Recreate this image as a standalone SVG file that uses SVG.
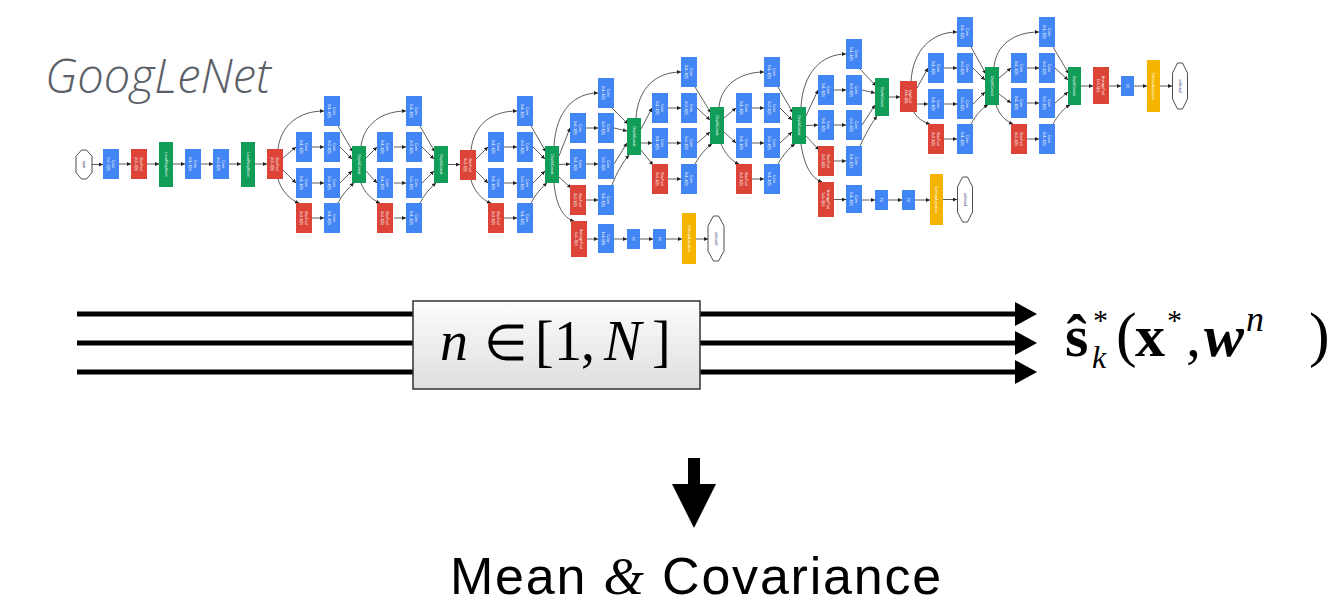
<svg xmlns="http://www.w3.org/2000/svg" width="1332" height="606" viewBox="0 0 1332 606">
  <defs>
    <style>
      .b{fill:#4285f4}
      .r{fill:#db4437}
      .g{fill:#0f9d58}
      .y{fill:#f4b400}
      .e{fill:#fff;stroke:#222;stroke-width:0.8;stroke-linejoin:round}
      .t{font-family:"Liberation Sans",Arial,sans-serif;font-size:3.4px;fill:#fff;text-anchor:middle}
      .te{font-family:"Liberation Sans",Arial,sans-serif;font-size:3.4px;fill:#1c2a6b;text-anchor:middle}
      .c{fill:none;stroke:#333;stroke-width:0.8;marker-end:url(#ah)}
      .thick{fill:none;stroke:#000;stroke-width:5}
      .math{font-family:"Liberation Serif","Times New Roman",serif;fill:#000}
    </style>
    <marker id="ah" viewBox="0 0 6 6" refX="6" refY="3" markerWidth="4" markerHeight="4" orient="auto" markerUnits="userSpaceOnUse">
      <path d="M0,0 L6,3 L0,6 z" fill="#222"/>
    </marker>
    <marker id="bigHead" viewBox="0 0 22 24" refX="0" refY="12" markerWidth="22" markerHeight="24" orient="auto" markerUnits="userSpaceOnUse">
      <path d="M0,0 L22,12 L0,24 z" fill="#000"/>
    </marker>
    <linearGradient id="boxFill" x1="0" y1="0" x2="0" y2="1">
      <stop offset="0" stop-color="#fdfdfd"/>
      <stop offset="1" stop-color="#dedede"/>
    </linearGradient>
  </defs>

  <rect width="1332" height="606" fill="#fff"/>

  <!-- title -->
  <text id="title" x="45" y="93" font-family="'Open Sans','Liberation Sans',sans-serif" font-style="italic" font-weight="300" font-size="47" fill="#5b6067">GoogLeNet</text>

  <!-- network edges -->
  <g id="net-links">
    <!-- stem -->
    <path class="c" d="M92,164.5 L103,164.5"/>
    <path class="c" d="M119,164 L131,164"/>
    <path class="c" d="M147,164 L159,164"/>
    <path class="c" d="M173,164 L185,164"/>
    <path class="c" d="M201,164 L213,164"/>
    <path class="c" d="M229,164 L241,164"/>
    <path class="c" d="M255,164 L267,164"/>
    <!-- inception 3a -->
    <path class="c" d="M278,149 C281,124 300,111 324,111"/>
    <path class="c" d="M283,158 L296,147"/>
    <path class="c" d="M283,170 L296,183"/>
    <path class="c" d="M278,179 C281,190 290,200 299,203"/>
    <path class="c" d="M312,147 L324,147"/>
    <path class="c" d="M312,183 L324,183"/>
    <path class="c" d="M312,218 L324,218"/>
    <path class="c" d="M338,126 L353,152"/>
    <path class="c" d="M340,147 L352,159"/>
    <path class="c" d="M340,183 L352,171"/>
    <path class="c" d="M338,203 C342,195 348,188 354,183"/>
    <!-- inception 3b -->
    <path class="c" d="M361,146 C364,124 382,111 406,111"/>
    <path class="c" d="M366,158 L377,147"/>
    <path class="c" d="M366,171 L377,183"/>
    <path class="c" d="M361,183 C364,192 372,200 380,203"/>
    <path class="c" d="M394,147 L406,147"/>
    <path class="c" d="M394,183 L406,183"/>
    <path class="c" d="M394,218 L406,218"/>
    <path class="c" d="M420,126 L435,152"/>
    <path class="c" d="M422,147 L434,159"/>
    <path class="c" d="M422,183 L434,171"/>
    <path class="c" d="M420,203 C424,195 430,188 436,183"/>
    <path class="c" d="M448,164.5 L460,164.5"/>
    <!-- inception 4a -->
    <path class="c" d="M471,150 C474,124 492,111 517,111"/>
    <path class="c" d="M476,159 L488,147"/>
    <path class="c" d="M476,171 L488,183"/>
    <path class="c" d="M471,180 C474,191 482,200 491,203"/>
    <path class="c" d="M504,147 L517,147"/>
    <path class="c" d="M504,183 L517,183"/>
    <path class="c" d="M504,218 L517,218"/>
    <path class="c" d="M531,126 L546,152"/>
    <path class="c" d="M533,147 L545,159"/>
    <path class="c" d="M533,183 L545,171"/>
    <path class="c" d="M531,203 C535,195 541,188 547,183"/>
    <!-- inception 4b -->
    <path class="c" d="M554,146 C556,110 575,93 598,93"/>
    <path class="c" d="M559,156 L570,128"/>
    <path class="c" d="M559,164.5 L570,164"/>
    <path class="c" d="M559,177 L571,188"/>
    <path class="c" d="M554,183 C556,205 563,218 574,221"/>
    <path class="c" d="M586,128 L598,128"/>
    <path class="c" d="M586,164 L598,164"/>
    <path class="c" d="M586,200 L598,200"/>
    <path class="c" d="M612,108 L628,124"/>
    <path class="c" d="M614,128 L627,131"/>
    <path class="c" d="M614,164 L627,143"/>
    <path class="c" d="M612,185 C617,172 623,162 629,155"/>
    <!-- auxiliary head 0 -->
    <path class="c" d="M587,239 L598,239"/>
    <path class="c" d="M614,239 L627,239"/>
    <path class="c" d="M640,239 L653,239"/>
    <path class="c" d="M666,239 L682,239"/>
    <path class="c" d="M696,239 L708,239"/>
    <!-- inception 4c -->
    <path class="c" d="M636,118 C638,88 656,72 681,72"/>
    <path class="c" d="M641,129 L652,108"/>
    <path class="c" d="M641,143 L652,143"/>
    <path class="c" d="M641,150 L653,165"/>
    <path class="c" d="M668,108 L681,108"/>
    <path class="c" d="M668,143 L681,143"/>
    <path class="c" d="M668,179 L681,179"/>
    <path class="c" d="M695,87 L711,113"/>
    <path class="c" d="M697,108 L710,120"/>
    <path class="c" d="M697,143 L710,132"/>
    <path class="c" d="M695,164 C700,155 706,148 712,144"/>
    <!-- inception 4d -->
    <path class="c" d="M719,107 C721,85 740,72 764,72"/>
    <path class="c" d="M724,118 L736,108"/>
    <path class="c" d="M724,132 L736,143"/>
    <path class="c" d="M721,144 C725,153 731,161 739,164"/>
    <path class="c" d="M752,108 L764,108"/>
    <path class="c" d="M752,143 L764,143"/>
    <path class="c" d="M752,179 L764,179"/>
    <path class="c" d="M778,87 L793,113"/>
    <path class="c" d="M780,108 L792,120"/>
    <path class="c" d="M780,143 L792,132"/>
    <path class="c" d="M778,164 C783,155 789,148 795,144"/>
    <!-- auxiliary head 1 -->
    <path class="c" d="M801,144 C804,165 811,178 822,182"/>
    <path class="c" d="M834,199.5 L846,199.5"/>
    <path class="c" d="M862,200 L875,200"/>
    <path class="c" d="M888,200 L902,200"/>
    <path class="c" d="M915,200 L930,200"/>
    <path class="c" d="M943,199.5 L957,199.5"/>
    <!-- inception 4e -->
    <path class="c" d="M801,107 C803,72 822,54 846,54"/>
    <path class="c" d="M806,116 L818,90"/>
    <path class="c" d="M806,125.5 L818,125"/>
    <path class="c" d="M806,136 L819,150"/>
    <path class="c" d="M834,90 L846,90"/>
    <path class="c" d="M834,125 L846,125"/>
    <path class="c" d="M834,161 L846,161"/>
    <path class="c" d="M860,69 L876,86"/>
    <path class="c" d="M862,90 L875,93"/>
    <path class="c" d="M862,125 L875,105"/>
    <path class="c" d="M860,146 C865,135 871,124 877,116"/>
    <path class="c" d="M889,97 L900,97"/>
    <!-- inception 5a -->
    <path class="c" d="M911,81 C913,50 932,32 957,32"/>
    <path class="c" d="M917,88 L928,68"/>
    <path class="c" d="M917,104 L928,104"/>
    <path class="c" d="M914,112 C917,118 923,122 930,124"/>
    <path class="c" d="M944,68 L957,68"/>
    <path class="c" d="M944,104 L957,104"/>
    <path class="c" d="M944,139 L957,139"/>
    <path class="c" d="M971,47 L986,74"/>
    <path class="c" d="M973,68 L985,80"/>
    <path class="c" d="M973,104 L985,92"/>
    <path class="c" d="M971,124 C976,115 982,108 988,105"/>
    <!-- inception 5b -->
    <path class="c" d="M994,67 C996,45 1014,32 1039,32"/>
    <path class="c" d="M999,78 L1011,68"/>
    <path class="c" d="M999,94 L1011,103"/>
    <path class="c" d="M996,105 C999,114 1005,121 1013,124"/>
    <path class="c" d="M1027,68 L1039,68"/>
    <path class="c" d="M1027,103 L1039,103"/>
    <path class="c" d="M1027,139 L1039,139"/>
    <path class="c" d="M1053,47 L1069,74"/>
    <path class="c" d="M1055,68 L1068,80"/>
    <path class="c" d="M1055,103 L1068,92"/>
    <path class="c" d="M1053,124 C1058,115 1064,108 1070,105"/>
    <!-- classifier -->
    <path class="c" d="M1081,86 L1093,86"/>
    <path class="c" d="M1109,86 L1121,86"/>
    <path class="c" d="M1134,86 L1147,86"/>
    <path class="c" d="M1160,86 L1172,86"/>
  </g>

  <!-- stem -->
  <g id="input"><path class="e" d="M81.5,150 L86.5,150 L92,156.4 L92,172.6 L86.5,179 L81.5,179 L76,172.6 L76,156.4 Z"/><text class="te" transform="translate(84,164.5) rotate(90)" y="1.2">input</text></g>
  <g id="conv1"><rect class="b" x="103" y="149" width="16" height="30"/><text class="t" transform="translate(111,164) rotate(90)"><tspan x="0" y="-0.6">Conv</tspan><tspan x="0" y="3.6">7x7+2(S)</tspan></text></g>
  <g id="pool1"><rect class="r" x="131" y="149" width="16" height="30"/><text class="t" transform="translate(139,164) rotate(90)"><tspan x="0" y="-0.6">MaxPool</tspan><tspan x="0" y="3.6">3x3+2(S)</tspan></text></g>
  <g id="norm1"><rect class="g" x="159" y="142" width="14" height="45"/><text class="t" transform="translate(166,164.5) rotate(90)" y="1.2">LocalRespNorm</text></g>
  <g id="conv2"><rect class="b" x="185" y="149" width="16" height="30"/><text class="t" transform="translate(193,164) rotate(90)"><tspan x="0" y="-0.6">Conv</tspan><tspan x="0" y="3.6">1x1+1(V)</tspan></text></g>
  <g id="conv3"><rect class="b" x="213" y="149" width="16" height="30"/><text class="t" transform="translate(221,164) rotate(90)"><tspan x="0" y="-0.6">Conv</tspan><tspan x="0" y="3.6">3x3+1(S)</tspan></text></g>
  <g id="norm2"><rect class="g" x="241" y="142" width="14" height="45"/><text class="t" transform="translate(248,164.5) rotate(90)" y="1.2">LocalRespNorm</text></g>
  <g id="pool2"><rect class="r" x="267" y="149" width="16" height="30"/><text class="t" transform="translate(275,164) rotate(90)"><tspan x="0" y="-0.6">MaxPool</tspan><tspan x="0" y="3.6">3x3+2(S)</tspan></text></g>

  <!-- inception 3a -->
  <g id="i3a-1"><rect class="b" x="324" y="96" width="16" height="30"/><text class="t" transform="translate(332,111) rotate(90)"><tspan x="0" y="-0.6">Conv</tspan><tspan x="0" y="3.6">1x1+1(S)</tspan></text></g>
  <g id="i3a-2a"><rect class="b" x="296" y="132" width="16" height="30"/><text class="t" transform="translate(304,147) rotate(90)"><tspan x="0" y="-0.6">Conv</tspan><tspan x="0" y="3.6">1x1+1(S)</tspan></text></g>
  <g id="i3a-2b"><rect class="b" x="324" y="132" width="16" height="30"/><text class="t" transform="translate(332,147) rotate(90)"><tspan x="0" y="-0.6">Conv</tspan><tspan x="0" y="3.6">3x3+1(S)</tspan></text></g>
  <g id="i3a-3a"><rect class="b" x="296" y="168" width="16" height="30"/><text class="t" transform="translate(304,183) rotate(90)"><tspan x="0" y="-0.6">Conv</tspan><tspan x="0" y="3.6">1x1+1(S)</tspan></text></g>
  <g id="i3a-3b"><rect class="b" x="324" y="168" width="16" height="30"/><text class="t" transform="translate(332,183) rotate(90)"><tspan x="0" y="-0.6">Conv</tspan><tspan x="0" y="3.6">5x5+1(S)</tspan></text></g>
  <g id="i3a-4a"><rect class="r" x="296" y="203" width="16" height="30"/><text class="t" transform="translate(304,218) rotate(90)"><tspan x="0" y="-0.6">MaxPool</tspan><tspan x="0" y="3.6">3x3+1(S)</tspan></text></g>
  <g id="i3a-4b"><rect class="b" x="324" y="203" width="16" height="30"/><text class="t" transform="translate(332,218) rotate(90)"><tspan x="0" y="-0.6">Conv</tspan><tspan x="0" y="3.6">1x1+1(S)</tspan></text></g>
  <g id="i3a-cat"><rect class="g" x="352" y="146" width="14" height="37"/><text class="t" transform="translate(359,164.5) rotate(90)" y="1.2">DepthConcat</text></g>

  <!-- inception 3b -->
  <g id="i3b-1"><rect class="b" x="406" y="96" width="16" height="30"/><text class="t" transform="translate(414,111) rotate(90)"><tspan x="0" y="-0.6">Conv</tspan><tspan x="0" y="3.6">1x1+1(S)</tspan></text></g>
  <g id="i3b-2a"><rect class="b" x="377" y="132" width="16" height="30"/><text class="t" transform="translate(385,147) rotate(90)"><tspan x="0" y="-0.6">Conv</tspan><tspan x="0" y="3.6">1x1+1(S)</tspan></text></g>
  <g id="i3b-2b"><rect class="b" x="406" y="132" width="16" height="30"/><text class="t" transform="translate(414,147) rotate(90)"><tspan x="0" y="-0.6">Conv</tspan><tspan x="0" y="3.6">3x3+1(S)</tspan></text></g>
  <g id="i3b-3a"><rect class="b" x="377" y="168" width="16" height="30"/><text class="t" transform="translate(385,183) rotate(90)"><tspan x="0" y="-0.6">Conv</tspan><tspan x="0" y="3.6">1x1+1(S)</tspan></text></g>
  <g id="i3b-3b"><rect class="b" x="406" y="168" width="16" height="30"/><text class="t" transform="translate(414,183) rotate(90)"><tspan x="0" y="-0.6">Conv</tspan><tspan x="0" y="3.6">5x5+1(S)</tspan></text></g>
  <g id="i3b-4a"><rect class="r" x="377" y="203" width="16" height="30"/><text class="t" transform="translate(385,218) rotate(90)"><tspan x="0" y="-0.6">MaxPool</tspan><tspan x="0" y="3.6">3x3+1(S)</tspan></text></g>
  <g id="i3b-4b"><rect class="b" x="406" y="203" width="16" height="30"/><text class="t" transform="translate(414,218) rotate(90)"><tspan x="0" y="-0.6">Conv</tspan><tspan x="0" y="3.6">1x1+1(S)</tspan></text></g>
  <g id="i3b-cat"><rect class="g" x="434" y="146" width="14" height="37"/><text class="t" transform="translate(441,164.5) rotate(90)" y="1.2">DepthConcat</text></g>

  <g id="pool3"><rect class="r" x="460" y="150" width="16" height="30"/><text class="t" transform="translate(468,165) rotate(90)"><tspan x="0" y="-0.6">MaxPool</tspan><tspan x="0" y="3.6">3x3+2(S)</tspan></text></g>

  <!-- inception 4a -->
  <g id="i4a-1"><rect class="b" x="517" y="96" width="16" height="30"/><text class="t" transform="translate(525,111) rotate(90)"><tspan x="0" y="-0.6">Conv</tspan><tspan x="0" y="3.6">1x1+1(S)</tspan></text></g>
  <g id="i4a-2a"><rect class="b" x="488" y="132" width="16" height="30"/><text class="t" transform="translate(496,147) rotate(90)"><tspan x="0" y="-0.6">Conv</tspan><tspan x="0" y="3.6">1x1+1(S)</tspan></text></g>
  <g id="i4a-2b"><rect class="b" x="517" y="132" width="16" height="30"/><text class="t" transform="translate(525,147) rotate(90)"><tspan x="0" y="-0.6">Conv</tspan><tspan x="0" y="3.6">3x3+1(S)</tspan></text></g>
  <g id="i4a-3a"><rect class="b" x="488" y="168" width="16" height="30"/><text class="t" transform="translate(496,183) rotate(90)"><tspan x="0" y="-0.6">Conv</tspan><tspan x="0" y="3.6">1x1+1(S)</tspan></text></g>
  <g id="i4a-3b"><rect class="b" x="517" y="168" width="16" height="30"/><text class="t" transform="translate(525,183) rotate(90)"><tspan x="0" y="-0.6">Conv</tspan><tspan x="0" y="3.6">5x5+1(S)</tspan></text></g>
  <g id="i4a-4a"><rect class="r" x="488" y="203" width="16" height="30"/><text class="t" transform="translate(496,218) rotate(90)"><tspan x="0" y="-0.6">MaxPool</tspan><tspan x="0" y="3.6">3x3+1(S)</tspan></text></g>
  <g id="i4a-4b"><rect class="b" x="517" y="203" width="16" height="30"/><text class="t" transform="translate(525,218) rotate(90)"><tspan x="0" y="-0.6">Conv</tspan><tspan x="0" y="3.6">1x1+1(S)</tspan></text></g>
  <g id="i4a-cat"><rect class="g" x="545" y="146" width="14" height="37"/><text class="t" transform="translate(552,164.5) rotate(90)" y="1.2">DepthConcat</text></g>

  <!-- inception 4b -->
  <g id="i4b-1"><rect class="b" x="598" y="78" width="16" height="30"/><text class="t" transform="translate(606,93) rotate(90)"><tspan x="0" y="-0.6">Conv</tspan><tspan x="0" y="3.6">1x1+1(S)</tspan></text></g>
  <g id="i4b-2a"><rect class="b" x="570" y="113" width="16" height="30"/><text class="t" transform="translate(578,128) rotate(90)"><tspan x="0" y="-0.6">Conv</tspan><tspan x="0" y="3.6">1x1+1(S)</tspan></text></g>
  <g id="i4b-2b"><rect class="b" x="598" y="113" width="16" height="30"/><text class="t" transform="translate(606,128) rotate(90)"><tspan x="0" y="-0.6">Conv</tspan><tspan x="0" y="3.6">3x3+1(S)</tspan></text></g>
  <g id="i4b-3a"><rect class="b" x="570" y="149" width="16" height="30"/><text class="t" transform="translate(578,164) rotate(90)"><tspan x="0" y="-0.6">Conv</tspan><tspan x="0" y="3.6">1x1+1(S)</tspan></text></g>
  <g id="i4b-3b"><rect class="b" x="598" y="149" width="16" height="30"/><text class="t" transform="translate(606,164) rotate(90)"><tspan x="0" y="-0.6">Conv</tspan><tspan x="0" y="3.6">5x5+1(S)</tspan></text></g>
  <g id="i4b-4a"><rect class="r" x="570" y="185" width="16" height="30"/><text class="t" transform="translate(578,200) rotate(90)"><tspan x="0" y="-0.6">MaxPool</tspan><tspan x="0" y="3.6">3x3+1(S)</tspan></text></g>
  <g id="i4b-4b"><rect class="b" x="598" y="185" width="16" height="30"/><text class="t" transform="translate(606,200) rotate(90)"><tspan x="0" y="-0.6">Conv</tspan><tspan x="0" y="3.6">1x1+1(S)</tspan></text></g>
  <g id="i4b-cat"><rect class="g" x="627" y="118" width="14" height="37"/><text class="t" transform="translate(634,136.5) rotate(90)" y="1.2">DepthConcat</text></g>

  <!-- auxiliary classifier 0 -->
  <g id="aux0-pool"><rect class="r" x="571" y="221" width="16" height="36"/><text class="t" transform="translate(579,239) rotate(90)"><tspan x="0" y="-0.6">AveragePool</tspan><tspan x="0" y="3.6">5x5+3(V)</tspan></text></g>
  <g id="aux0-conv"><rect class="b" x="598" y="224" width="16" height="29"/><text class="t" transform="translate(606,238.5) rotate(90)"><tspan x="0" y="-0.6">Conv</tspan><tspan x="0" y="3.6">1x1+1(S)</tspan></text></g>
  <g id="aux0-fc1"><rect class="b" x="627" y="229" width="13" height="20"/><text class="t" transform="translate(633.5,239) rotate(90)" y="1.2">FC</text></g>
  <g id="aux0-fc2"><rect class="b" x="653" y="229" width="13" height="20"/><text class="t" transform="translate(659.5,239) rotate(90)" y="1.2">FC</text></g>
  <g id="aux0-act"><rect class="y" x="682" y="213" width="14" height="51"/><text class="t" transform="translate(689,238.5) rotate(90)" y="1.2">SoftmaxActivation</text></g>
  <g id="softmax0"><path class="e" d="M713.5,216 L718.5,216 L724,225.9 L724,251.1 L718.5,261 L713.5,261 L708,251.1 L708,225.9 Z"/><text class="te" transform="translate(716,238.5) rotate(90)" y="1.2">softmax0</text></g>

  <!-- inception 4c -->
  <g id="i4c-1"><rect class="b" x="681" y="57" width="16" height="30"/><text class="t" transform="translate(689,72) rotate(90)"><tspan x="0" y="-0.6">Conv</tspan><tspan x="0" y="3.6">1x1+1(S)</tspan></text></g>
  <g id="i4c-2a"><rect class="b" x="652" y="93" width="16" height="30"/><text class="t" transform="translate(660,108) rotate(90)"><tspan x="0" y="-0.6">Conv</tspan><tspan x="0" y="3.6">1x1+1(S)</tspan></text></g>
  <g id="i4c-2b"><rect class="b" x="681" y="93" width="16" height="30"/><text class="t" transform="translate(689,108) rotate(90)"><tspan x="0" y="-0.6">Conv</tspan><tspan x="0" y="3.6">3x3+1(S)</tspan></text></g>
  <g id="i4c-3a"><rect class="b" x="652" y="128" width="16" height="30"/><text class="t" transform="translate(660,143) rotate(90)"><tspan x="0" y="-0.6">Conv</tspan><tspan x="0" y="3.6">1x1+1(S)</tspan></text></g>
  <g id="i4c-3b"><rect class="b" x="681" y="128" width="16" height="30"/><text class="t" transform="translate(689,143) rotate(90)"><tspan x="0" y="-0.6">Conv</tspan><tspan x="0" y="3.6">5x5+1(S)</tspan></text></g>
  <g id="i4c-4a"><rect class="r" x="652" y="164" width="16" height="30"/><text class="t" transform="translate(660,179) rotate(90)"><tspan x="0" y="-0.6">MaxPool</tspan><tspan x="0" y="3.6">3x3+1(S)</tspan></text></g>
  <g id="i4c-4b"><rect class="b" x="681" y="164" width="16" height="30"/><text class="t" transform="translate(689,179) rotate(90)"><tspan x="0" y="-0.6">Conv</tspan><tspan x="0" y="3.6">1x1+1(S)</tspan></text></g>
  <g id="i4c-cat"><rect class="g" x="710" y="107" width="14" height="37"/><text class="t" transform="translate(717,125.5) rotate(90)" y="1.2">DepthConcat</text></g>

  <!-- inception 4d -->
  <g id="i4d-1"><rect class="b" x="764" y="57" width="16" height="30"/><text class="t" transform="translate(772,72) rotate(90)"><tspan x="0" y="-0.6">Conv</tspan><tspan x="0" y="3.6">1x1+1(S)</tspan></text></g>
  <g id="i4d-2a"><rect class="b" x="736" y="93" width="16" height="30"/><text class="t" transform="translate(744,108) rotate(90)"><tspan x="0" y="-0.6">Conv</tspan><tspan x="0" y="3.6">1x1+1(S)</tspan></text></g>
  <g id="i4d-2b"><rect class="b" x="764" y="93" width="16" height="30"/><text class="t" transform="translate(772,108) rotate(90)"><tspan x="0" y="-0.6">Conv</tspan><tspan x="0" y="3.6">3x3+1(S)</tspan></text></g>
  <g id="i4d-3a"><rect class="b" x="736" y="128" width="16" height="30"/><text class="t" transform="translate(744,143) rotate(90)"><tspan x="0" y="-0.6">Conv</tspan><tspan x="0" y="3.6">1x1+1(S)</tspan></text></g>
  <g id="i4d-3b"><rect class="b" x="764" y="128" width="16" height="30"/><text class="t" transform="translate(772,143) rotate(90)"><tspan x="0" y="-0.6">Conv</tspan><tspan x="0" y="3.6">5x5+1(S)</tspan></text></g>
  <g id="i4d-4a"><rect class="r" x="736" y="164" width="16" height="30"/><text class="t" transform="translate(744,179) rotate(90)"><tspan x="0" y="-0.6">MaxPool</tspan><tspan x="0" y="3.6">3x3+1(S)</tspan></text></g>
  <g id="i4d-4b"><rect class="b" x="764" y="164" width="16" height="30"/><text class="t" transform="translate(772,179) rotate(90)"><tspan x="0" y="-0.6">Conv</tspan><tspan x="0" y="3.6">1x1+1(S)</tspan></text></g>
  <g id="i4d-cat"><rect class="g" x="792" y="107" width="14" height="37"/><text class="t" transform="translate(799,125.5) rotate(90)" y="1.2">DepthConcat</text></g>

  <!-- auxiliary classifier 1 -->
  <g id="aux1-pool"><rect class="r" x="818" y="182" width="16" height="35"/><text class="t" transform="translate(826,199.5) rotate(90)"><tspan x="0" y="-0.6">AveragePool</tspan><tspan x="0" y="3.6">5x5+3(V)</tspan></text></g>
  <g id="aux1-conv"><rect class="b" x="846" y="185" width="16" height="28"/><text class="t" transform="translate(854,199) rotate(90)"><tspan x="0" y="-0.6">Conv</tspan><tspan x="0" y="3.6">1x1+1(S)</tspan></text></g>
  <g id="aux1-fc1"><rect class="b" x="875" y="190" width="13" height="20"/><text class="t" transform="translate(881.5,200) rotate(90)" y="1.2">FC</text></g>
  <g id="aux1-fc2"><rect class="b" x="902" y="190" width="13" height="20"/><text class="t" transform="translate(908.5,200) rotate(90)" y="1.2">FC</text></g>
  <g id="aux1-act"><rect class="y" x="930" y="174" width="13" height="51"/><text class="t" transform="translate(936.5,199.5) rotate(90)" y="1.2">SoftmaxActivation</text></g>
  <g id="softmax1"><path class="e" d="M962.5,177 L967.5,177 L972.5,186.9 L972.5,212.1 L967.5,222 L962.5,222 L957.5,212.1 L957.5,186.9 Z"/><text class="te" transform="translate(965,199.5) rotate(90)" y="1.2">softmax1</text></g>

  <!-- inception 4e -->
  <g id="i4e-1"><rect class="b" x="846" y="39" width="16" height="30"/><text class="t" transform="translate(854,54) rotate(90)"><tspan x="0" y="-0.6">Conv</tspan><tspan x="0" y="3.6">1x1+1(S)</tspan></text></g>
  <g id="i4e-2a"><rect class="b" x="818" y="75" width="16" height="30"/><text class="t" transform="translate(826,90) rotate(90)"><tspan x="0" y="-0.6">Conv</tspan><tspan x="0" y="3.6">1x1+1(S)</tspan></text></g>
  <g id="i4e-2b"><rect class="b" x="846" y="75" width="16" height="30"/><text class="t" transform="translate(854,90) rotate(90)"><tspan x="0" y="-0.6">Conv</tspan><tspan x="0" y="3.6">3x3+1(S)</tspan></text></g>
  <g id="i4e-3a"><rect class="b" x="818" y="110" width="16" height="30"/><text class="t" transform="translate(826,125) rotate(90)"><tspan x="0" y="-0.6">Conv</tspan><tspan x="0" y="3.6">1x1+1(S)</tspan></text></g>
  <g id="i4e-3b"><rect class="b" x="846" y="110" width="16" height="30"/><text class="t" transform="translate(854,125) rotate(90)"><tspan x="0" y="-0.6">Conv</tspan><tspan x="0" y="3.6">5x5+1(S)</tspan></text></g>
  <g id="i4e-4a"><rect class="r" x="818" y="146" width="16" height="30"/><text class="t" transform="translate(826,161) rotate(90)"><tspan x="0" y="-0.6">MaxPool</tspan><tspan x="0" y="3.6">3x3+1(S)</tspan></text></g>
  <g id="i4e-4b"><rect class="b" x="846" y="146" width="16" height="30"/><text class="t" transform="translate(854,161) rotate(90)"><tspan x="0" y="-0.6">Conv</tspan><tspan x="0" y="3.6">1x1+1(S)</tspan></text></g>
  <g id="i4e-cat"><rect class="g" x="875" y="78" width="14" height="38"/><text class="t" transform="translate(882,97) rotate(90)" y="1.2">DepthConcat</text></g>

  <g id="pool4"><rect class="r" x="900" y="81" width="17" height="31"/><text class="t" transform="translate(908.5,96.5) rotate(90)"><tspan x="0" y="-0.6">MaxPool</tspan><tspan x="0" y="3.6">3x3+2(S)</tspan></text></g>

  <!-- inception 5a -->
  <g id="i5a-1"><rect class="b" x="957" y="17" width="16" height="30"/><text class="t" transform="translate(965,32) rotate(90)"><tspan x="0" y="-0.6">Conv</tspan><tspan x="0" y="3.6">1x1+1(S)</tspan></text></g>
  <g id="i5a-2a"><rect class="b" x="928" y="53" width="16" height="30"/><text class="t" transform="translate(936,68) rotate(90)"><tspan x="0" y="-0.6">Conv</tspan><tspan x="0" y="3.6">1x1+1(S)</tspan></text></g>
  <g id="i5a-2b"><rect class="b" x="957" y="53" width="16" height="30"/><text class="t" transform="translate(965,68) rotate(90)"><tspan x="0" y="-0.6">Conv</tspan><tspan x="0" y="3.6">3x3+1(S)</tspan></text></g>
  <g id="i5a-3a"><rect class="b" x="928" y="89" width="16" height="30"/><text class="t" transform="translate(936,104) rotate(90)"><tspan x="0" y="-0.6">Conv</tspan><tspan x="0" y="3.6">1x1+1(S)</tspan></text></g>
  <g id="i5a-3b"><rect class="b" x="957" y="89" width="16" height="30"/><text class="t" transform="translate(965,104) rotate(90)"><tspan x="0" y="-0.6">Conv</tspan><tspan x="0" y="3.6">5x5+1(S)</tspan></text></g>
  <g id="i5a-4a"><rect class="r" x="928" y="124" width="16" height="30"/><text class="t" transform="translate(936,139) rotate(90)"><tspan x="0" y="-0.6">MaxPool</tspan><tspan x="0" y="3.6">3x3+1(S)</tspan></text></g>
  <g id="i5a-4b"><rect class="b" x="957" y="124" width="16" height="30"/><text class="t" transform="translate(965,139) rotate(90)"><tspan x="0" y="-0.6">Conv</tspan><tspan x="0" y="3.6">1x1+1(S)</tspan></text></g>
  <g id="i5a-cat"><rect class="g" x="985" y="67" width="14" height="38"/><text class="t" transform="translate(992,86) rotate(90)" y="1.2">DepthConcat</text></g>

  <!-- inception 5b -->
  <g id="i5b-1"><rect class="b" x="1039" y="17" width="16" height="30"/><text class="t" transform="translate(1047,32) rotate(90)"><tspan x="0" y="-0.6">Conv</tspan><tspan x="0" y="3.6">1x1+1(S)</tspan></text></g>
  <g id="i5b-2a"><rect class="b" x="1011" y="53" width="16" height="30"/><text class="t" transform="translate(1019,68) rotate(90)"><tspan x="0" y="-0.6">Conv</tspan><tspan x="0" y="3.6">1x1+1(S)</tspan></text></g>
  <g id="i5b-2b"><rect class="b" x="1039" y="53" width="16" height="30"/><text class="t" transform="translate(1047,68) rotate(90)"><tspan x="0" y="-0.6">Conv</tspan><tspan x="0" y="3.6">3x3+1(S)</tspan></text></g>
  <g id="i5b-3a"><rect class="b" x="1011" y="88" width="16" height="30"/><text class="t" transform="translate(1019,103) rotate(90)"><tspan x="0" y="-0.6">Conv</tspan><tspan x="0" y="3.6">1x1+1(S)</tspan></text></g>
  <g id="i5b-3b"><rect class="b" x="1039" y="88" width="16" height="30"/><text class="t" transform="translate(1047,103) rotate(90)"><tspan x="0" y="-0.6">Conv</tspan><tspan x="0" y="3.6">5x5+1(S)</tspan></text></g>
  <g id="i5b-4a"><rect class="r" x="1011" y="124" width="16" height="30"/><text class="t" transform="translate(1019,139) rotate(90)"><tspan x="0" y="-0.6">MaxPool</tspan><tspan x="0" y="3.6">3x3+1(S)</tspan></text></g>
  <g id="i5b-4b"><rect class="b" x="1039" y="124" width="16" height="30"/><text class="t" transform="translate(1047,139) rotate(90)"><tspan x="0" y="-0.6">Conv</tspan><tspan x="0" y="3.6">1x1+1(S)</tspan></text></g>
  <g id="i5b-cat"><rect class="g" x="1068" y="67" width="13" height="38"/><text class="t" transform="translate(1074.5,86) rotate(90)" y="1.2">DepthConcat</text></g>

  <!-- main classifier -->
  <g id="final-pool"><rect class="r" x="1093" y="67" width="16" height="37"/><text class="t" transform="translate(1101,85.5) rotate(90)"><tspan x="0" y="-0.6">AveragePool</tspan><tspan x="0" y="3.6">7x7+1(V)</tspan></text></g>
  <g id="final-fc"><rect class="b" x="1121" y="76" width="13" height="20"/><text class="t" transform="translate(1127.5,86) rotate(90)" y="1.2">FC</text></g>
  <g id="final-act"><rect class="y" x="1147" y="60" width="13" height="52"/><text class="t" transform="translate(1153.5,86) rotate(90)" y="1.2">SoftmaxActivation</text></g>
  <g id="softmax2"><path class="e" d="M1177.5,63 L1182.5,63 L1187.5,73.1 L1187.5,98.9 L1182.5,109 L1177.5,109 L1172.5,98.9 L1172.5,73.1 Z"/><text class="te" transform="translate(1180,86) rotate(90)" y="1.2">softmax2</text></g>

  <!-- ensemble streams -->
  <g id="connectors">
    <path class="thick" d="M77,314 L413,314"/>
    <path class="thick" d="M77,343 L413,343"/>
    <path class="thick" d="M77,372 L413,372"/>
    <path class="thick" d="M700,314 L1015,314" marker-end="url(#bigHead)"/>
    <path class="thick" d="M700,343 L1015,343" marker-end="url(#bigHead)"/>
    <path class="thick" d="M700,372 L1015,372" marker-end="url(#bigHead)"/>
    <rect x="688" y="458" width="12" height="27" fill="#000"/>
    <path d="M672,484 L716,484 L694,528 Z" fill="#000"/>
  </g>

  <!-- sample index box -->
  <g id="ensemble-box">
    <rect x="413" y="301" width="287" height="88" fill="url(#boxFill)" stroke="#333" stroke-width="1.5"/>
    <text class="math" y="360" font-size="56"><tspan x="440" font-style="italic">n</tspan><tspan x="484" font-size="50">∈</tspan><tspan x="535">[</tspan><tspan x="554">1</tspan><tspan x="581">,</tspan><tspan x="604" font-style="italic">N</tspan><tspan x="652">]</tspan></text>
  </g>

  <!-- per-sample prediction -->
  <g id="output-label">
    <text class="math"><tspan x="1065" y="356" font-size="60" font-weight="bold">ŝ</tspan><tspan x="1093" y="330" font-size="30">*</tspan><tspan x="1092" y="368" font-size="32" font-style="italic">k</tspan><tspan x="1116" y="355" font-size="62">(</tspan><tspan x="1135" y="356" font-size="60" font-weight="bold">x</tspan><tspan x="1167" y="330" font-size="30">*</tspan><tspan x="1186" y="356" font-size="60">,</tspan><tspan x="1204" y="356" font-size="60" font-weight="bold" font-style="italic">w</tspan><tspan x="1246" y="331" font-size="36" font-style="italic">n</tspan><tspan x="1309" y="355" font-size="62">)</tspan></text>
  </g>

  <!-- aggregated statistics -->
  <g id="stats-label">
    <text x="450" y="594" font-family="'Liberation Sans',Arial,sans-serif" font-size="52" letter-spacing="1.8" fill="#000">Mean <tspan font-family="'Liberation Serif',serif" font-style="italic">&amp;</tspan> Covariance</text>
  </g>
</svg>
